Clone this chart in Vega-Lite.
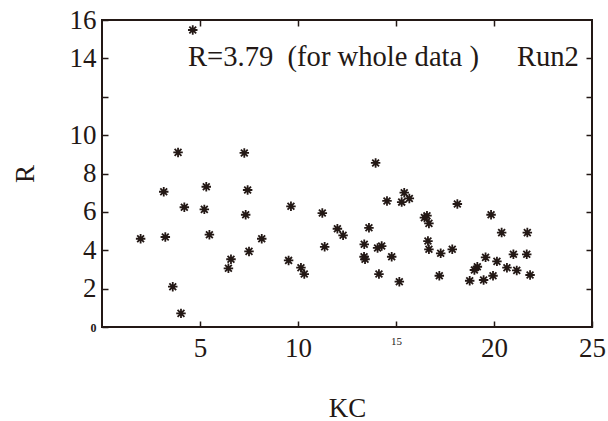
{
  "$schema": "https://vega.github.io/schema/vega-lite/v6.json",
  "width": 490,
  "height": 307,
  "autosize": {"type": "none"},
  "padding": {"left": 102, "top": 20, "right": 16, "bottom": 94},
  "background": "white",
  "config": {
    "view": {"stroke": null},
    "font": "Liberation Serif",
    "axis": {
      "labelFont": "Liberation Serif",
      "titleFont": "Liberation Serif",
      "labelColor": "#231815",
      "titleColor": "#231815",
      "tickColor": "#231815",
      "titleFontWeight": "normal",
      "grid": false,
      "domain": false,
      "ticks": true,
      "tickSize": 6,
      "tickWidth": 1.5,
      "offset": -6,
      "zindex": 1
    }
  },
  "resolve": {"axis": {"x": "independent", "y": "independent"}},
  "datasets": {
    "pts": [
      {"KC": 4.63, "R": 15.48}, {"KC": 3.88, "R": 9.10}, {"KC": 3.15, "R": 7.05}, {"KC": 5.32, "R": 7.31},
      {"KC": 4.20, "R": 6.24}, {"KC": 5.22, "R": 6.13}, {"KC": 1.97, "R": 4.60}, {"KC": 3.23, "R": 4.69},
      {"KC": 5.48, "R": 4.81}, {"KC": 3.61, "R": 2.10}, {"KC": 4.03, "R": 0.71}, {"KC": 6.45, "R": 3.06},
      {"KC": 7.26, "R": 9.07}, {"KC": 7.43, "R": 7.14}, {"KC": 7.33, "R": 5.85}, {"KC": 9.64, "R": 6.29},
      {"KC": 11.24, "R": 5.94}, {"KC": 12.01, "R": 5.12}, {"KC": 12.30, "R": 4.78}, {"KC": 8.15, "R": 4.60},
      {"KC": 7.50, "R": 3.94}, {"KC": 6.58, "R": 3.53}, {"KC": 9.52, "R": 3.47}, {"KC": 10.15, "R": 3.09},
      {"KC": 10.32, "R": 2.76}, {"KC": 11.36, "R": 4.18}, {"KC": 13.96, "R": 8.55}, {"KC": 14.54, "R": 6.57},
      {"KC": 15.29, "R": 6.51}, {"KC": 15.42, "R": 7.00}, {"KC": 15.68, "R": 6.70}, {"KC": 18.13, "R": 6.41},
      {"KC": 16.45, "R": 5.70}, {"KC": 16.58, "R": 5.80}, {"KC": 16.68, "R": 5.40}, {"KC": 13.62, "R": 5.17},
      {"KC": 13.38, "R": 4.31}, {"KC": 14.06, "R": 4.12}, {"KC": 14.27, "R": 4.22}, {"KC": 13.37, "R": 3.66},
      {"KC": 13.42, "R": 3.53}, {"KC": 14.78, "R": 3.66}, {"KC": 16.63, "R": 4.48}, {"KC": 16.68, "R": 4.05},
      {"KC": 17.28, "R": 3.84}, {"KC": 17.87, "R": 4.05}, {"KC": 14.13, "R": 2.76}, {"KC": 15.17, "R": 2.36},
      {"KC": 17.21, "R": 2.67}, {"KC": 18.76, "R": 2.41}, {"KC": 19.85, "R": 5.85}, {"KC": 20.39, "R": 4.92},
      {"KC": 21.70, "R": 4.92}, {"KC": 19.57, "R": 3.63}, {"KC": 20.15, "R": 3.42}, {"KC": 20.99, "R": 3.79},
      {"KC": 21.67, "R": 3.79}, {"KC": 19.15, "R": 3.14}, {"KC": 19.00, "R": 2.97}, {"KC": 20.66, "R": 3.09},
      {"KC": 21.16, "R": 2.95}, {"KC": 19.47, "R": 2.45}, {"KC": 19.95, "R": 2.67}, {"KC": 21.84, "R": 2.71}
    ],
    "notes": [
      {"KC": 4.39, "R": 13.6, "label": "R=3.79\u00a0\u00a0(for whole data )"},
      {"KC": 21.17, "R": 13.6, "label": "Run2"}
    ],
    "one": [{}]
  },
  "layer": [
    {
      "data": {"name": "one"},
      "mark": {"type": "rect", "filled": false, "stroke": "#231815", "strokeWidth": 2, "clip": false},
      "encoding": {
        "x": {"datum": 0, "type": "quantitative", "axis": null},
        "x2": {"datum": 25},
        "y": {"datum": 0, "type": "quantitative", "axis": null},
        "y2": {"datum": 16}
      }
    },
    {
      "data": {"name": "pts"},
      "mark": {
        "type": "point",
        "shape": "M-1,0L1,0M0,-1L0,1M-0.72,-0.72L0.72,0.72M-0.72,0.72L0.72,-0.72",
        "filled": false,
        "size": 90,
        "stroke": "#231815",
        "strokeWidth": 1.8,
        "opacity": 1
      },
      "encoding": {
        "x": {
          "field": "KC", "type": "quantitative",
          "scale": {"domain": [0, 25], "nice": false, "zero": false},
          "axis": {
            "orient": "bottom",
            "values": [5, 10, 15, 20, 25],
            "labelFontSize": {"condition": {"test": "datum.value == 15", "value": 11}, "value": 27},
            "labelPadding": 8,
            "labelFlush": false,
            "title": "KC",
            "titleFontSize": 27,
            "titlePadding": 34
          }
        },
        "y": {
          "field": "R", "type": "quantitative",
          "scale": {"domain": [0, 16], "nice": false, "zero": false},
          "axis": {
            "orient": "left",
            "values": [0, 2, 4, 6, 8, 10, 12, 14, 16],
            "labelExpr": "datum.value == 12 ? '' : datum.label",
            "labelFontSize": {"condition": {"test": "datum.value == 0", "value": 12}, "value": 27},
            "labelFontWeight": {"condition": {"test": "datum.value == 0", "value": "bold"}, "value": "normal"},
            "labelPadding": 6,
            "labelFlush": false,
            "title": "R",
            "titleFontSize": 27,
            "titlePadding": 30
          }
        }
      }
    },
    {
      "data": {"name": "pts"},
      "mark": {"type": "point", "opacity": 0},
      "encoding": {
        "x": {
          "field": "KC", "type": "quantitative",
          "scale": {"domain": [0, 25], "nice": false, "zero": false},
          "axis": {"orient": "top", "values": [5, 10, 15, 20], "labels": false, "title": null}
        },
        "y": {
          "field": "R", "type": "quantitative",
          "scale": {"domain": [0, 16], "nice": false, "zero": false},
          "axis": {"orient": "right", "values": [2, 4, 6, 8, 10, 12, 14], "labels": false, "title": null}
        }
      }
    },
    {
      "data": {"name": "notes"},
      "mark": {"type": "text", "align": "left", "baseline": "alphabetic", "font": "Liberation Serif", "fontSize": 28.6, "color": "#231815"},
      "encoding": {
        "x": {"field": "KC", "type": "quantitative", "axis": null},
        "y": {"field": "R", "type": "quantitative", "axis": null},
        "text": {"field": "label"}
      }
    }
  ]
}
